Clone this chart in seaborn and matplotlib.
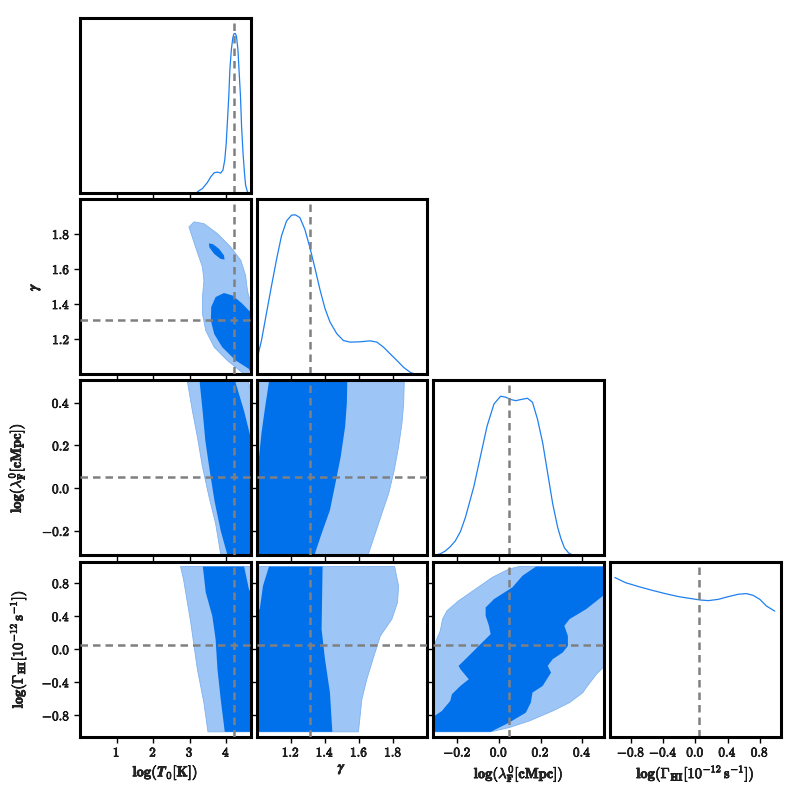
import numpy as np
import seaborn as sns
import matplotlib as mpl
import matplotlib.pyplot as plt
import matplotlib.patheffects as pe

# parameter names, truth values and plot ranges
labels = [
    r'$\mathbf{log(}\boldsymbol{T}_{\mathbf{0}}\mathbf{[K])}$',
    r'$\boldsymbol{\gamma}$',
    r'$\mathbf{log(}\boldsymbol{\lambda}^{\mathbf{0}}_{\mathbf{F}}\mathbf{[cMpc])}$',
    r'$\mathbf{log(\Gamma_{HI}[10^{-12}\,s^{-1}])}$',
]
truths = [4.2, 1.31, 0.05, 0.05]
ranges = [(0.0, 4.67), (1.0, 2.0), (-0.315, 0.505), (-1.06, 1.06)]
ticks = [
    [1, 2, 3, 4],
    [1.2, 1.4, 1.6, 1.8],
    [-0.2, 0.0, 0.2, 0.4],
    [-0.8, -0.4, 0.0, 0.4, 0.8],
]
tick_labels = [
    ['1', '2', '3', '4'],
    ['1.2', '1.4', '1.6', '1.8'],
    ['-0.2', '0.0', '0.2', '0.4'],
    ['-0.8', '-0.4', '0.0', '0.4', '0.8'],
]
# horizontal spot of each row's y label (axes fraction)
ylabel_x = [None, -0.22, -0.31, -0.30]

# 1D marginals (peak normalised to 1)
t0_x = [3.21, 3.35, 3.48, 3.58, 3.67, 3.76, 3.85, 3.91, 3.96, 4.00, 4.03, 4.07,
        4.10, 4.14, 4.18, 4.21, 4.25, 4.28, 4.32, 4.35, 4.39, 4.42, 4.46, 4.50,
        4.53, 4.58, 4.61]
t0_p = [0.006, 0.027, 0.063, 0.101, 0.126, 0.130, 0.124, 0.143, 0.206, 0.311,
        0.437, 0.605, 0.773, 0.899, 0.973, 0.998, 1.0, 0.983, 0.899, 0.773,
        0.605, 0.416, 0.248, 0.122, 0.048, 0.006, 0.0]

gam_x = [1.002, 1.028, 1.057, 1.086, 1.116, 1.145, 1.175, 1.204, 1.227, 1.253,
         1.282, 1.312, 1.341, 1.371, 1.400, 1.429, 1.469, 1.508, 1.547, 1.606,
         1.665, 1.704, 1.743, 1.782, 1.822, 1.861, 1.900, 1.929]
gam_p = [0.095, 0.211, 0.381, 0.550, 0.719, 0.867, 0.962, 0.998, 1.0, 0.983,
         0.909, 0.793, 0.666, 0.529, 0.412, 0.328, 0.254, 0.211, 0.201, 0.203,
         0.209, 0.201, 0.169, 0.127, 0.085, 0.042, 0.011, 0.0]

lam_x = [-0.306, -0.282, -0.258, -0.234, -0.210, -0.185, -0.161, -0.121, -0.089,
         -0.057, -0.024, 0.008, 0.032, 0.057, 0.081, 0.105, 0.137, 0.161, 0.185,
         0.210, 0.234, 0.258, 0.282, 0.298, 0.314, 0.335, 0.355]
lam_p = [0.002, 0.010, 0.028, 0.055, 0.091, 0.150, 0.240, 0.431, 0.622, 0.813,
         0.951, 1.0, 0.994, 0.979, 0.972, 0.979, 0.987, 0.962, 0.856, 0.707,
         0.516, 0.325, 0.176, 0.105, 0.049, 0.015, 0.002]

gHI_x = [-1.0, -0.87, -0.705, -0.54, -0.375, -0.21, -0.045, 0.058, 0.16, 0.284,
         0.408, 0.532, 0.634, 0.717, 0.80, 0.882, 0.985]
gHI_p = [1.0, 0.968, 0.943, 0.920, 0.899, 0.880, 0.867, 0.859, 0.855, 0.863,
         0.880, 0.895, 0.899, 0.888, 0.863, 0.821, 0.789]

marginals = [(t0_x, t0_p), (gam_x, gam_p), (lam_x, lam_p), (gHI_x, gHI_p)]

# 2D credible regions (outer and inner outlines), keyed by (row, col)
light = {
    (1, 0): ([2.98, 3.12, 3.39, 3.76, 4.12, 4.40, 4.53, 4.58, 4.62, 4.8, 4.8,
              4.49, 4.03, 3.67, 3.44, 3.35, 3.35, 3.39, 3.35, 3.16],
             [1.84, 1.869, 1.859, 1.802, 1.726, 1.649, 1.563, 1.478, 1.44, 1.43,
              0.95, 1.0, 1.078, 1.154, 1.249, 1.345, 1.44, 1.535, 1.611, 1.726]),
    (2, 0): ([2.918, 4.58, 4.67, 4.8, 4.8, 3.87, 3.71, 3.53, 3.35, 3.21, 3.07],
             [0.52, 0.52, 0.454, 0.44, -0.33, -0.33, -0.166, -0.041, 0.1, 0.241, 0.366]),
    (3, 0): ([2.75, 4.8, 4.8, 3.50, 3.39, 3.21, 3.03, 2.83],
             [1.0, 1.0, -1.0, -1.0, -0.65, -0.24, 0.32, 0.85]),
    (2, 1): ([0.95, 1.865, 1.861, 1.851, 1.831, 1.806, 1.773, 1.733, 1.694, 1.645, 0.95],
             [0.52, 0.52, 0.398, 0.304, 0.194, 0.085, -0.025, -0.119, -0.213, -0.33, -0.33]),
    (3, 1): ([0.95, 1.808, 1.831, 1.825, 1.792, 1.724, 1.681, 1.645, 1.616, 1.596, 0.95],
             [1.0, 1.0, 0.767, 0.566, 0.364, 0.16, -0.12, -0.364, -0.606, -1.0, -1.0]),
    (3, 2): ([-0.306, -0.282, -0.271, -0.25, -0.194, -0.113, -0.032, 0.048, 0.097,
              0.6, 0.6, 0.50, 0.468, 0.419, 0.403, 0.339, 0.258, 0.145, 0.048,
              -0.040, -0.4, -0.4],
             [0.081, 0.222, 0.364, 0.464, 0.586, 0.727, 0.869, 0.97, 1.0,
              1.0, -0.16, -0.222, -0.303, -0.465, -0.525, -0.646, -0.747, -0.869,
              -0.949, -1.0, -1.0, 0.05]),
}

dark = {
    (1, 0): [([3.954, 3.939, 3.808, 3.637, 3.526, 3.541, 3.672, 3.843],
              [1.654, 1.677, 1.714, 1.742, 1.746, 1.723, 1.686, 1.658]),
             ([3.94, 4.17, 4.44, 4.62, 4.8, 4.8, 4.62, 4.26, 3.89, 3.67, 3.58, 3.59, 3.71],
              [1.463, 1.449, 1.402, 1.363, 1.34, 0.95, 1.03, 1.078, 1.154, 1.23, 1.306,
               1.383, 1.44])],
    (2, 0): [([3.26, 4.21, 4.49, 4.65, 4.8, 4.8, 4.06, 3.85, 3.68, 3.55, 3.43, 3.36],
              [0.52, 0.52, 0.36, 0.25, 0.2, -0.33, -0.33, -0.20, -0.06, 0.08, 0.22, 0.35])],
    (3, 0): [([3.36, 4.49, 4.62, 4.8, 4.8, 3.96, 3.85, 3.76, 3.71, 3.62, 3.44],
              [1.0, 1.0, 0.727, 0.6, -1.0, -1.0, -0.61, -0.24, 0.12, 0.40, 0.687])],
    (2, 1): [([1.076, 1.531, 1.528, 1.518, 1.492, 1.465, 1.429, 1.380, 1.331, 0.95,
               0.95, 1.014, 1.028, 1.047],
              [0.52, 0.52, 0.398, 0.288, 0.147, 0.038, -0.103, -0.213, -0.33, -0.33,
               0.10, 0.147, 0.257, 0.366])],
    (3, 1): [([1.072, 1.386, 1.380, 1.40, 1.429, 1.443, 0.95, 0.95, 1.018, 1.037],
              [1.0, 1.0, 0.242, -0.12, -0.525, -1.0, -1.0, 0.45, 0.485, 0.767])],
    (3, 2): [([-0.4, -0.040, 0.048, 0.129, 0.153, 0.161, 0.210, 0.250, 0.234, 0.258,
               0.306, 0.331, 0.331, 0.314, 0.339, 0.419, 0.50, 0.6, 0.6, 0.178,
               0.113, 0.064, -0.024, -0.064, -0.064, -0.048, -0.040, -0.097, -0.145,
               -0.194, -0.185, -0.145, -0.185, -0.226, -0.234, -0.274, -0.31, -0.4],
              [-1.0, -1.0, -0.889, -0.768, -0.646, -0.525, -0.444, -0.283, -0.202,
               -0.121, -0.04, 0.04, 0.161, 0.283, 0.364, 0.485, 0.646, 0.70, 1.0,
               1.0, 0.889, 0.747, 0.606, 0.505, 0.404, 0.283, 0.182, 0.04, -0.081,
               -0.202, -0.242, -0.364, -0.444, -0.545, -0.626, -0.747, -0.808, -0.83])],
}

# colours
c_dark = '#0070EB'
c_light = '#9DC5F5'
c_line = '#1F80F0'
c_truth = '#808080'

sns.set_theme(style='ticks')
mpl.rcParams['mathtext.fontset'] = 'cm'
mpl.rcParams['font.family'] = ['DejaVu Serif']
mpl.rcParams['xtick.direction'] = 'out'
mpl.rcParams['ytick.direction'] = 'out'
mpl.rcParams['xtick.labelsize'] = 9.5
mpl.rcParams['ytick.labelsize'] = 9.5
mpl.rcParams['axes.labelsize'] = 10.5

# thicken the glyphs a touch, like the heavy LaTeX bold of the original
heavy = [pe.withStroke(linewidth=0.5, foreground='black')]


def bold(txt):
    return r'$\mathbf{%s}$' % txt


fig, axes = plt.subplots(4, 4, figsize=(8, 8))
fig.subplots_adjust(left=0.1, right=0.976, bottom=0.079, top=0.978,
                    wspace=0.035, hspace=0.035)

n = 4
for i in range(n):
    for j in range(n):
        ax = axes[i, j]
        if j > i:
            ax.set_axis_off()
            continue

        if i == j:
            xs, ps = marginals[i]
            sns.lineplot(x=xs, y=ps, ax=ax, color=c_line, lw=0.9)
            ax.axvline(truths[j], color=c_truth, ls='--', lw=1.8, dashes=(3, 2))
            ax.set_ylim(0, 1.1)
            ax.set_yticks([])
        else:
            lx, ly = light[(i, j)]
            ax.fill(lx, ly, facecolor=c_light, edgecolor='#7FB2F0', lw=0.6, zorder=1)
            for dx, dy in dark[(i, j)]:
                ax.fill(dx, dy, facecolor=c_dark, edgecolor='none', zorder=2)
            ax.axvline(truths[j], color=c_truth, ls='--', lw=1.8, dashes=(3, 2), zorder=3)
            ax.axhline(truths[i], color=c_truth, ls='--', lw=1.8, dashes=(3, 2), zorder=3)
            ax.set_ylim(ranges[i])
            if j == 0:
                ax.set_yticks(ticks[i], [bold(t) for t in tick_labels[i]])
                ax.set_ylabel(labels[i], path_effects=heavy)
                ax.yaxis.set_label_coords(ylabel_x[i], 0.5)
            else:
                ax.set_yticks(ticks[i], [])

        ax.set_xlim(ranges[j])
        if i == n - 1:
            ax.set_xticks(ticks[j], [bold(t) for t in tick_labels[j]])
            ax.set_xlabel(labels[j], labelpad=2, path_effects=heavy)
        else:
            ax.set_xticks(ticks[j], [])

        ax.tick_params(length=4, width=1, color='black', pad=3)
        for lab in ax.get_xticklabels() + ax.get_yticklabels():
            lab.set_path_effects(heavy)
        for sp in ax.spines.values():
            sp.set_linewidth(2.2)
            sp.set_color('black')

fig.savefig('out.png', dpi=100)
